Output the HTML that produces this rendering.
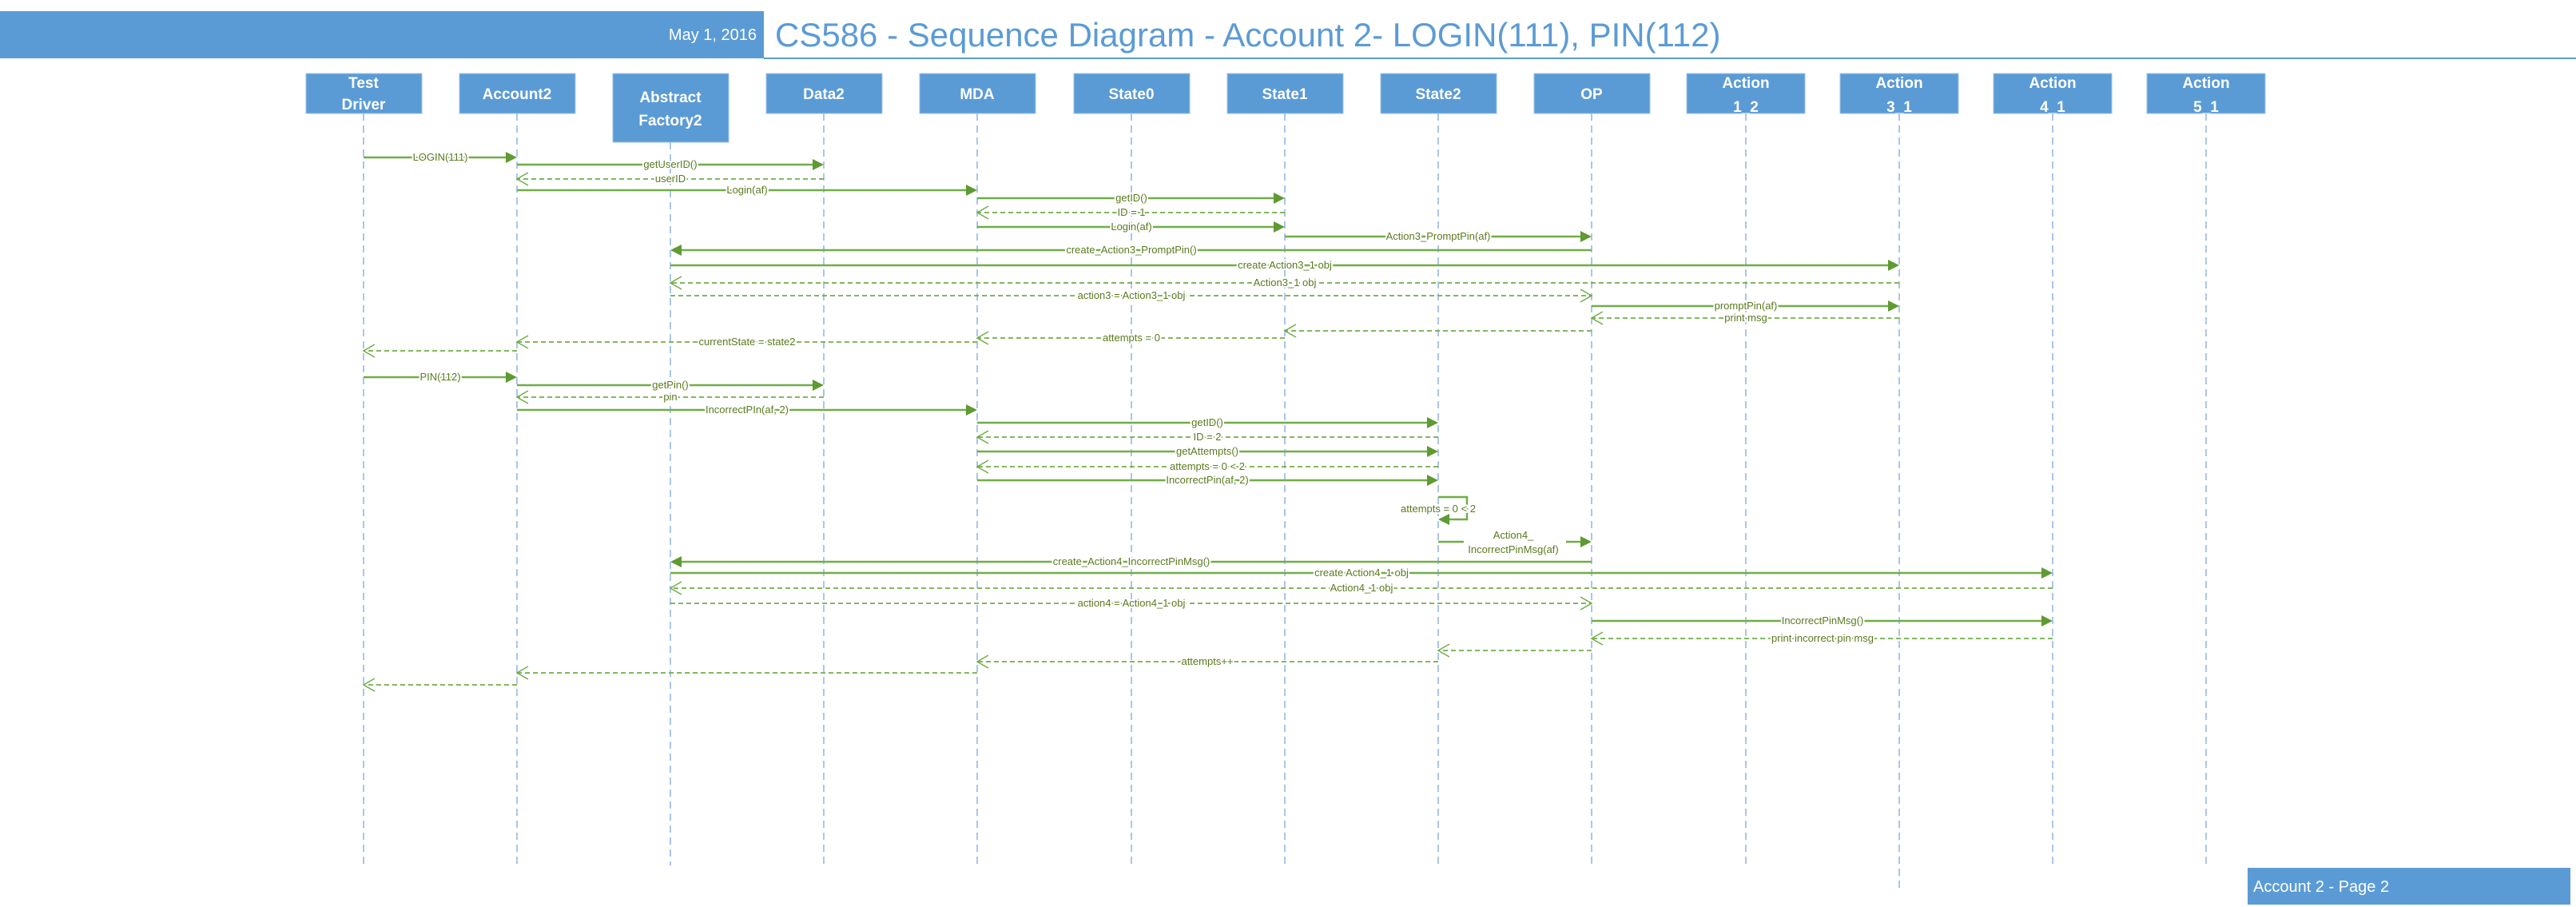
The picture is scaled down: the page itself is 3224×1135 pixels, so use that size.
<!DOCTYPE html>
<html><head><meta charset="utf-8"><style>
html,body{margin:0;padding:0;background:#fff;}
svg{display:block;}
.bt{font-family:"Liberation Sans",sans-serif;font-size:19px;font-weight:bold;fill:#fff;text-anchor:middle;}
.ml{font-family:"Liberation Sans",sans-serif;font-size:13px;fill:#5a7a1e;text-anchor:middle;stroke:#fff;stroke-width:4px;paint-order:stroke;stroke-linejoin:round;}
.ll{stroke:#8fb4e3;stroke-width:1.5;stroke-dasharray:9,6;fill:none;}
.s{stroke:#70ad47;stroke-width:2.5;fill:none;}
.d{stroke:#70ad47;stroke-width:1.8;stroke-dasharray:6,4;fill:none;}
.ah{fill:#5f9a32;}
.oa{stroke:#70ad47;stroke-width:1.5;fill:none;}
</style></head><body>
<svg width="3224" height="1135" viewBox="0 0 3224 1135" xmlns="http://www.w3.org/2000/svg">
<rect x="0" y="14" width="956" height="59" fill="#5b9bd5"/>
<line x1="956" y1="73" x2="3224" y2="73" stroke="#5b9bd5" stroke-width="2"/>
<text x="947" y="50" font-family="Liberation Sans,sans-serif" font-size="20" fill="#fff" text-anchor="end">May 1, 2016</text>
<text x="970" y="58" font-family="Liberation Sans,sans-serif" font-size="42" fill="#5b9bd5">CS586 - Sequence Diagram - Account 2- LOGIN(111), PIN(112)</text>

<g class="ll">
<line x1="455" y1="142" x2="455" y2="1083"/>
<line x1="647" y1="142" x2="647" y2="1083"/>
<line x1="839" y1="178" x2="839" y2="1083"/>
<line x1="1031" y1="142" x2="1031" y2="1083"/>
<line x1="1223" y1="142" x2="1223" y2="1083"/>
<line x1="1416" y1="142" x2="1416" y2="1083"/>
<line x1="1608" y1="142" x2="1608" y2="1083"/>
<line x1="1800" y1="142" x2="1800" y2="1083"/>
<line x1="1992" y1="142" x2="1992" y2="1083"/>
<line x1="2185" y1="142" x2="2185" y2="1083"/>
<line x1="2377" y1="142" x2="2377" y2="1111"/>
<line x1="2569" y1="142" x2="2569" y2="1083"/>
<line x1="2761" y1="142" x2="2761" y2="1083"/>
</g>

<g fill="#5b9bd5" stroke="#9dc3e6" stroke-width="1">
<rect x="383" y="92" width="145" height="50"/>
<rect x="575" y="92" width="145" height="50"/>
<rect x="767" y="92" width="145" height="86"/>
<rect x="959" y="92" width="145" height="50"/>
<rect x="1151" y="92" width="145" height="50"/>
<rect x="1344" y="92" width="145" height="50"/>
<rect x="1536" y="92" width="145" height="50"/>
<rect x="1728" y="92" width="145" height="50"/>
<rect x="1920" y="92" width="145" height="50"/>
<rect x="2111" y="92" width="148" height="50"/>
<rect x="2303" y="92" width="148" height="50"/>
<rect x="2495" y="92" width="148" height="50"/>
<rect x="2687" y="92" width="148" height="50"/>
</g>
<text class="bt" x="455" y="110">Test</text><text class="bt" x="455" y="137">Driver</text>
<text class="bt" x="647" y="124">Account2</text>
<text class="bt" x="839" y="128">Abstract</text><text class="bt" x="839" y="157">Factory2</text>
<text class="bt" x="1031" y="124">Data2</text>
<text class="bt" x="1223" y="124">MDA</text>
<text class="bt" x="1416" y="124">State0</text>
<text class="bt" x="1608" y="124">State1</text>
<text class="bt" x="1800" y="124">State2</text>
<text class="bt" x="1992" y="124">OP</text>
<text class="bt" x="2185" y="110">Action</text><text class="bt" x="2185" y="140">1_2</text>
<text class="bt" x="2377" y="110">Action</text><text class="bt" x="2377" y="140">3_1</text>
<text class="bt" x="2569" y="110">Action</text><text class="bt" x="2569" y="140">4_1</text>
<text class="bt" x="2761" y="110">Action</text><text class="bt" x="2761" y="140">5_1</text>

<g class="s">
<line x1="455" y1="197" x2="635" y2="197"/>
<line x1="647" y1="206" x2="1019" y2="206"/>
<line x1="647" y1="238" x2="1211" y2="238"/>
<line x1="1223" y1="248" x2="1596" y2="248"/>
<line x1="1223" y1="284" x2="1596" y2="284"/>
<line x1="1608" y1="296" x2="1980" y2="296"/>
<line x1="1992" y1="313" x2="851" y2="313"/>
<line x1="839" y1="332" x2="2365" y2="332"/>
<line x1="1992" y1="383" x2="2365" y2="383"/>
<line x1="455" y1="472" x2="635" y2="472"/>
<line x1="647" y1="482" x2="1019" y2="482"/>
<line x1="647" y1="513" x2="1211" y2="513"/>
<line x1="1223" y1="529" x2="1788" y2="529"/>
<line x1="1223" y1="565" x2="1788" y2="565"/>
<line x1="1223" y1="601" x2="1788" y2="601"/>
<polyline points="1800,622 1836,622 1836,650 1812,650"/>
<line x1="1800" y1="678" x2="1832" y2="678"/>
<line x1="1960" y1="678" x2="1980" y2="678"/>
<line x1="1992" y1="703" x2="851" y2="703"/>
<line x1="839" y1="717" x2="2557" y2="717"/>
<line x1="1992" y1="777" x2="2557" y2="777"/>
</g>
<g class="ah">
<polygon points="647,197 633,190 633,204"/>
<polygon points="1031,206 1017,199 1017,213"/>
<polygon points="1223,238 1209,231 1209,245"/>
<polygon points="1608,248 1594,241 1594,255"/>
<polygon points="1608,284 1594,277 1594,291"/>
<polygon points="1992,296 1978,289 1978,303"/>
<polygon points="839,313 853,306 853,320"/>
<polygon points="2377,332 2363,325 2363,339"/>
<polygon points="2377,383 2363,376 2363,390"/>
<polygon points="647,472 633,465 633,479"/>
<polygon points="1031,482 1017,475 1017,489"/>
<polygon points="1223,513 1209,506 1209,520"/>
<polygon points="1800,529 1786,522 1786,536"/>
<polygon points="1800,565 1786,558 1786,572"/>
<polygon points="1800,601 1786,594 1786,608"/>
<polygon points="1800,650 1814,643 1814,657"/>
<polygon points="1992,678 1978,671 1978,685"/>
<polygon points="839,703 853,696 853,710"/>
<polygon points="2569,717 2555,710 2555,724"/>
<polygon points="2569,777 2555,770 2555,784"/>
</g>

<g class="d">
<line x1="1031" y1="224" x2="647" y2="224"/>
<line x1="1608" y1="266" x2="1223" y2="266"/>
<line x1="2377" y1="354" x2="839" y2="354"/>
<line x1="839" y1="370" x2="1992" y2="370"/>
<line x1="2377" y1="398" x2="1992" y2="398"/>
<line x1="1992" y1="414" x2="1608" y2="414"/>
<line x1="1608" y1="423" x2="1223" y2="423"/>
<line x1="1223" y1="428" x2="647" y2="428"/>
<line x1="647" y1="439" x2="455" y2="439"/>
<line x1="1031" y1="497" x2="647" y2="497"/>
<line x1="1800" y1="547" x2="1223" y2="547"/>
<line x1="1800" y1="584" x2="1223" y2="584"/>
<line x1="2569" y1="736" x2="839" y2="736"/>
<line x1="839" y1="755" x2="1992" y2="755"/>
<line x1="2569" y1="799" x2="1992" y2="799"/>
<line x1="1992" y1="814" x2="1800" y2="814"/>
<line x1="1800" y1="828" x2="1223" y2="828"/>
<line x1="1223" y1="842" x2="647" y2="842"/>
<line x1="647" y1="857" x2="455" y2="857"/>
</g>
<g class="oa">
<polyline points="661,216 647,224 661,232"/>
<polyline points="1237,258 1223,266 1237,274"/>
<polyline points="853,346 839,354 853,362"/>
<polyline points="1978,362 1992,370 1978,378"/>
<polyline points="2006,390 1992,398 2006,406"/>
<polyline points="1622,406 1608,414 1622,422"/>
<polyline points="1237,415 1223,423 1237,431"/>
<polyline points="661,420 647,428 661,436"/>
<polyline points="469,431 455,439 469,447"/>
<polyline points="661,489 647,497 661,505"/>
<polyline points="1237,539 1223,547 1237,555"/>
<polyline points="1237,576 1223,584 1237,592"/>
<polyline points="853,728 839,736 853,744"/>
<polyline points="1978,747 1992,755 1978,763"/>
<polyline points="2006,791 1992,799 2006,807"/>
<polyline points="1814,806 1800,814 1814,822"/>
<polyline points="1237,820 1223,828 1237,836"/>
<polyline points="661,834 647,842 661,850"/>
<polyline points="469,849 455,857 469,865"/>
</g>

<g class="ml">
<text x="551" y="201">LOGIN(111)</text>
<text x="839" y="210">getUserID()</text>
<text x="839" y="228">userID</text>
<text x="935" y="242">Login(af)</text>
<text x="1416" y="252">getID()</text>
<text x="1416" y="270">ID = 1</text>
<text x="1416" y="288">Login(af)</text>
<text x="1800" y="300">Action3_PromptPin(af)</text>
<text x="1416" y="317">create_Action3_PromptPin()</text>
<text x="1608" y="336">create Action3_1 obj</text>
<text x="1608" y="358">Action3_1 obj</text>
<text x="1416" y="374">action3 = Action3_1 obj</text>
<text x="2185" y="387">promptPin(af)</text>
<text x="2185" y="402">print msg</text>
<text x="1416" y="427">attempts = 0</text>
<text x="935" y="432">currentState = state2</text>
<text x="551" y="476">PIN(112)</text>
<text x="839" y="486">getPin()</text>
<text x="839" y="501">pin</text>
<text x="935" y="517">IncorrectPIn(af, 2)</text>
<text x="1511" y="533">getID()</text>
<text x="1511" y="551">ID = 2</text>
<text x="1511" y="569">getAttempts()</text>
<text x="1511" y="588">attempts = 0 &lt; 2</text>
<text x="1511" y="605">IncorrectPin(af, 2)</text>
<text x="1800" y="641">attempts = 0 &lt; 2</text>
<text x="1894" y="674">Action4_</text>
<text x="1894" y="692">IncorrectPinMsg(af)</text>
<text x="1416" y="707">create_Action4_IncorrectPinMsg()</text>
<text x="1704" y="721">create Action4_1 obj</text>
<text x="1704" y="740">Action4_1 obj</text>
<text x="1416" y="759">action4 = Action4_1 obj</text>
<text x="2281" y="781">IncorrectPinMsg()</text>
<text x="2281" y="803">print incorrect pin msg</text>
<text x="1511" y="832">attempts++</text>
</g>

<rect x="2813" y="1086" width="404" height="46" fill="#5b9bd5"/>
<text x="2820" y="1116" font-family="Liberation Sans,sans-serif" font-size="20" fill="#fff">Account 2 - Page 2</text>
</svg>
</body></html>
